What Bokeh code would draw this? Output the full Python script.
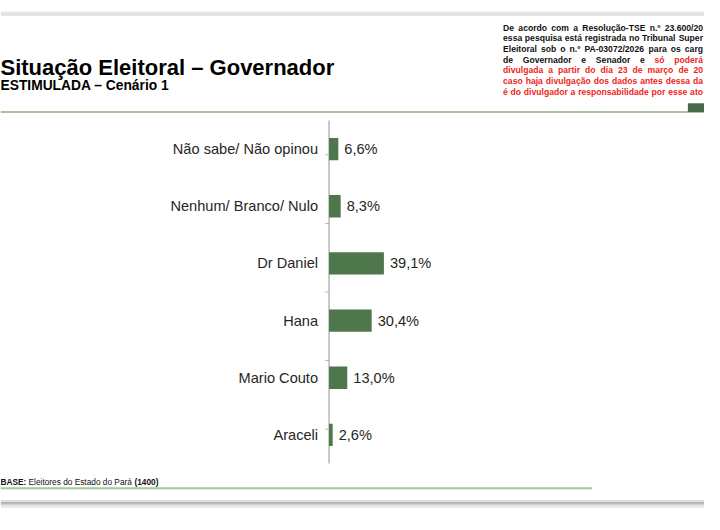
import unicodedata
from bokeh.plotting import figure
from bokeh.layouts import column
from bokeh.models import ColumnDataSource, FactorRange, Range1d, CategoricalScale
from bokeh.core.properties import value
from bokeh.embed import file_html
from bokeh.resources import INLINE

# ---------------- data ----------------
categories = ["Não sabe/ Não opinou", "Nenhum/ Branco/ Nulo", "Dr Daniel",
              "Hana", "Mario Couto", "Araceli"]
values = [6.6, 8.3, 39.1, 30.4, 13.0, 2.6]
value_labels = [f"{v:.1f}".replace(".", ",") + "%" for v in values]

title_text = "Situação Eleitoral – Governador"
subtitle_text = "ESTIMULADA – Cenário 1"
# legal notice, as much of each line as the (cropped) slide shows;
# words after "|" are printed in red
notice_text = [
    "De acordo com a Resolução-TSE n.º 23.600/20",
    "essa pesquisa está registrada no Tribunal Super",
    "Eleitoral sob o n.º PA-03072/2026 para os carg",
    "de Governador e Senador e | só poderá",
    "| divulgada a partir do dia 23 de março de 20",
    "| caso haja divulgação dos dados antes dessa da",
    "| é do divulgador a responsabilidade por esse ato",
]
base_text = ["BASE:", "Eleitores do Estado do Pará", "(1400)"]
base_style = ["bold", "normal", "bold"]

# ---------------- layout ----------------
W, H = 704, 514
SX, SY = W / 720, H / 530          # reference pixels -> page pixels
FONT = "Liberation Sans"
BAR = "#4e784b"
AXIS = "#b8b8b8"
LABEL = "#262626"
BLACK, RED = "#111111", "#f01e23"

HEAD_H = 113
FOOT_TOP = 470
CHART_H = FOOT_TOP - HEAD_H
FOOT_H = H - FOOT_TOP


def cx(ref_x):
    return ref_x * SX


def cy(ref_y):
    return ref_y * SY


# approximate advance widths of Liberation Sans Bold (per em)
_BOLD_W = dict(zip("abcdefghijklmnopqrstuvwxyz",
                   [.556, .611, .556, .611, .556, .333, .611, .611, .278, .278, .556, .278, .889,
                    .611, .611, .611, .611, .389, .556, .333, .611, .556, .778, .556, .556, .5]))
_BOLD_W.update(dict(zip("ABCDEFGHIJKLMNOPQRSTUVWXYZ",
                        [.722, .722, .722, .722, .667, .611, .778, .722, .278, .556, .722, .611,
                         .833, .722, .778, .667, .778, .722, .667, .611, .722, .667, .944, .667,
                         .667, .611])))
_BOLD_W.update({d: .556 for d in "0123456789"})
_BOLD_W.update({".": .278, ",": .278, "-": .333, "/": .278, "º": .365, ":": .333, " ": .278})


def bold_width(word, size):
    total = 0.0
    for ch in word:
        base = unicodedata.normalize("NFD", ch)[0]
        total += _BOLD_W.get(ch, _BOLD_W.get(base, .556))
    return total * size


def canvas_fig(h):
    f = figure(width=W, height=h, output_backend="svg", toolbar_location=None,
               x_range=Range1d(0, W), y_range=Range1d(h, 0),
               x_axis_location=None, y_axis_location=None,
               min_border=0, min_border_left=0, min_border_right=0,
               min_border_top=0, min_border_bottom=0,
               background_fill_color="white", border_fill_color="white")
    f.outline_line_color = None
    f.grid.visible = False
    return f


def band(f, x0, x1, y0, y1, color, dy=0):
    f.quad(left=[cx(x0)], right=[cx(x1)], top=[cy(y0) - dy], bottom=[cy(y1) - dy],
           fill_color=color, line_color=None)


def txt(f, text, x, y, size, style, color, dy=0):
    f.text(x=[cx(x)], y=[cy(y) - dy], text=[text], text_font=value(FONT),
           text_font_size=size, text_font_style=style, text_color=color,
           text_baseline="alphabetic", text_align="left")


# ---------------- header ----------------
head = canvas_fig(HEAD_H)
band(head, 0, 720, 11, 12, "#f0f1f1")
band(head, 0, 720, 12, 16, "#e2e5e5")
band(head, 0, 720, 114, 116, "#a9c39e")
band(head, 703, 720, 106, 115, "#4b6b48")
txt(head, title_text, 0, 69, "22px", "bold", "#000000")
txt(head, subtitle_text, 0, 88, "13.8px", "bold", "#000000")

# justified notice block (each visible line stretched to the page edge)
NOTE_SIZE = 8.6
note_left, note_right = cx(514), W - 1.5
nw, nx, ny, nc = [], [], [], []
for i, line in enumerate(notice_text):
    red = False
    words = []
    for token in line.split(" "):
        if token == "|":
            red = True
            continue
        words.append((token, red))
    widths = [bold_width(w, NOTE_SIZE) for w, _ in words]
    gap = (note_right - note_left - sum(widths)) / (len(words) - 1)
    x = note_left
    for (w, is_red), wd in zip(words, widths):
        nw.append(w)
        nx.append(x)
        ny.append(cy(28 + 11 * i))
        nc.append(RED if is_red else BLACK)
        x += wd + gap
head.text(x="x", y="y", text="w", text_color="c",
          source=ColumnDataSource(dict(x=nx, y=ny, w=nw, c=nc)),
          text_font=value(FONT), text_font_size=f"{NOTE_SIZE}px", text_font_style="bold",
          text_baseline="alphabetic", text_align="left")

# ---------------- chart ----------------
axis_x = cx(336)
frame_top = cy(123.5) - HEAD_H
frame_bottom = cy(477) - HEAD_H
px_per_pct = 1.435 * SX
tick_len = 4 / px_per_pct

p = figure(width=W, height=CHART_H, output_backend="svg", toolbar_location=None,
           y_range=FactorRange(factors=categories[::-1], range_padding=0),
           x_range=Range1d(-axis_x / px_per_pct, (W - axis_x) / px_per_pct),
           x_axis_location=None, y_axis_location=None,
           min_border_left=0, min_border_right=0,
           min_border_top=round(frame_top),
           min_border_bottom=round(CHART_H - frame_bottom),
           background_fill_color="white", border_fill_color="white")
p.outline_line_color = None
p.grid.visible = False

# category edges (for the axis line and its boundary ticks)
edges = [f"e{i}" for i in range(len(categories) + 1)]
p.extra_y_ranges = {"edges": FactorRange(factors=edges, range_padding=-1.0,
                                         range_padding_units="absolute")}
p.extra_y_scales = {"edges": CategoricalScale()}
p.segment(x0=[0], y0=[edges[0]], x1=[0], y1=[edges[-1]], y_range_name="edges",
          line_color=AXIS, line_width=1.5)
p.segment(x0=0, x1=-tick_len, y0=edges, y1=edges, y_range_name="edges",
          line_color=AXIS, line_width=1)

src = ColumnDataSource(dict(cat=categories, val=values, lab=value_labels))
p.hbar(y="cat", left=0, right="val", height=0.39, source=src,
       fill_color=BAR, line_color=None)
p.text(x="val", y="cat", text="lab", source=src, x_offset=6,
       text_baseline="middle", text_align="left", text_font=value(FONT),
       text_font_size="14.6px", text_color=LABEL)
p.text(x=0, y="cat", text="cat", source=src, x_offset=-11,
       text_baseline="middle", text_align="right", text_font=value(FONT),
       text_font_size="14.6px", text_color=LABEL)

# ---------------- footer ----------------
foot = canvas_fig(FOOT_H)
band(foot, 0, 605, 502, 504, "#a9c79a", FOOT_TOP)
band(foot, 0, 720, 515, 517, "#dcdfdf", FOOT_TOP)
band(foot, 0, 720, 517, 520, "#b6b9b9", FOOT_TOP)
band(foot, 0, 720, 520, 523, "#e4e6e6", FOOT_TOP)
base_x = [0, 28.7, 137.0]
for t, s, x in zip(base_text, base_style, base_x):
    txt(foot, t, x, 497, "8.3px", s, BLACK, FOOT_TOP)

layout = column(head, p, foot, spacing=0)
open("out.html", "w").write(file_html(layout, INLINE))
